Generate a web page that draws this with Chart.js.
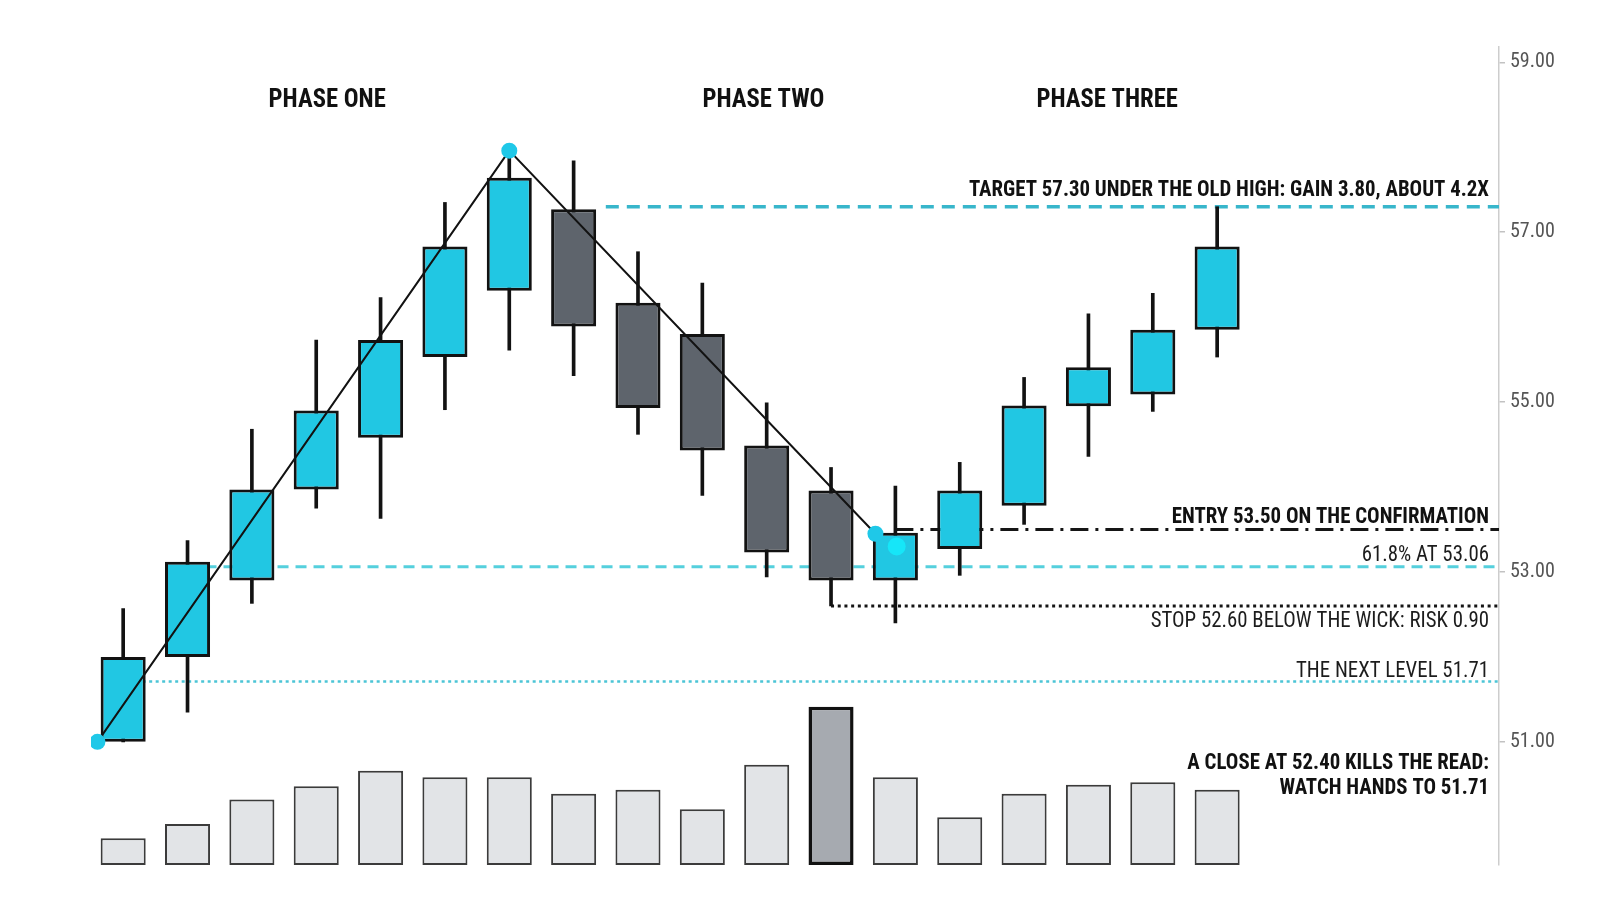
<!DOCTYPE html>
<html>
<head>
<meta charset="utf-8">
<script src="https://cdn.jsdelivr.net/npm/chart.js@4.4.1/dist/chart.umd.min.js"></script>
<style>
html,body{margin:0;padding:0;background:#ffffff;}
#wrap{width:1600px;height:914px;}
</style>
</head>
<body>
<div id="wrap"><canvas id="c" width="1600" height="914"></canvas></div>
<script>
// ---------------- DATA ----------------
const candleOpen  = [51.00, 52.00, 52.90, 53.97, 54.58, 55.53, 56.31, 57.27, 56.17, 55.80, 54.49, 53.96, 52.90, 53.27, 53.78, 54.95, 55.09, 55.85];
const candleHigh  = [52.57, 53.37, 54.68, 55.73, 56.23, 57.35, 57.96, 57.84, 56.77, 56.40, 54.99, 54.23, 54.01, 54.29, 55.29, 56.04, 56.28, 57.30];
const candleLow   = [51.00, 51.35, 52.63, 53.75, 53.63, 54.91, 55.61, 55.31, 54.62, 53.90, 52.94, 52.60, 52.40, 52.96, 53.56, 54.36, 54.89, 55.53];
const candleClose = [52.00, 53.12, 53.97, 54.90, 55.73, 56.83, 57.64, 55.89, 54.93, 54.43, 53.23, 52.90, 53.46, 53.96, 54.96, 55.41, 55.85, 56.83];
const volume      = [169, 259, 413, 497, 596, 554, 554, 450, 476, 352, 634, 1000, 554, 301, 450, 507, 522, 476];

const yTicks = [51, 53, 55, 57, 59];

// swing path (x in candle-index units)
const swingX = [-0.4, 6, 11.69];
const swingY = [51.00, 57.96, 53.45];
const glowX = [12.02];
const glowY = [53.30];

// horizontal levels
const levelTarget = 57.30, levelEntry = 53.50, levelFib = 53.06, levelStop = 52.60, levelNext = 51.71;
const levelStartX = {target: 7.5, entry: 12, fib: 1, stop: 11, next: 0};

const phaseNames = ['PHASE ONE', 'PHASE TWO', 'PHASE THREE'];
const phaseX = [3.17, 9.95, 15.29];

const levelLabels = [
  {text: 'TARGET 57.30 UNDER THE OLD HIGH: GAIN 3.80, ABOUT 4.2X', level: 57.30, dy: -16, bold: true},
  {text: 'ENTRY 53.50 ON THE CONFIRMATION', level: 53.50, dy: -12, bold: true},
  {text: '61.8% AT 53.06', level: 53.06, dy: -11, bold: false},
  {text: 'STOP 52.60 BELOW THE WICK: RISK 0.90', level: 52.60, dy: 16, bold: false},
  {text: 'THE NEXT LEVEL 51.71', level: 51.71, dy: -10, bold: false},
  {text: 'A CLOSE AT 52.40 KILLS THE READ:', level: 51.71, dy: 82, bold: true},
  {text: 'WATCH HANDS TO 51.71', level: 51.71, dy: 107, bold: true}
];

// ---------------- STYLE ----------------
const CYAN = '#21c7e3', GRAY = '#5e646c', INK = '#121212';
const X_MIN = -0.5, X_MAX = 21.38;
const volHi = volume.indexOf(Math.max(...volume));

function hasFont(name){
  const c = document.createElement('canvas').getContext('2d');
  const s = 'TARGET 57.30 ABCDEFG wmil 0123';
  let diff = false;
  ['monospace','serif'].forEach(f => {
    c.font = '20px ' + f; const a = c.measureText(s).width;
    c.font = '20px "' + name + '", ' + f; const b = c.measureText(s).width;
    if (Math.abs(a-b) > 0.5) diff = true;
  });
  return diff;
}
const hasCond = hasFont('Roboto Condensed');
const FONT = hasCond ? '"Roboto Condensed", Roboto, sans-serif' : 'Roboto, "Liberation Sans", sans-serif';
let SQ = 1;
(function(){
  const c = document.createElement('canvas').getContext('2d');
  c.font = 'bold 22px ' + FONT;
  const w = c.measureText(levelLabels[0].text).width;
  SQ = Math.max(0.7, Math.min(1.15, 520 / w));
})();

function drawText(ctx, txt, px, py, align, bold, size){
  ctx.save();
  ctx.font = (bold ? 'bold ' : '') + size + 'px ' + FONT;
  ctx.fillStyle = bold ? '#111111' : '#1c1c1c';
  ctx.textAlign = align;
  ctx.textBaseline = 'middle';
  ctx.translate(px, py);
  ctx.scale(SQ, 1);
  ctx.fillText(txt, 0, 0);
  ctx.restore();
}

const textPlugin = {
  id: 'textPlugin',
  afterDatasetsDraw(chart){
    const ctx = chart.ctx, xs = chart.scales.x, ys = chart.scales.y;
    phaseNames.forEach((t, i) => drawText(ctx, t, xs.getPixelForValue(phaseX[i]), 100, 'center', true, 26));
    const rx = chart.chartArea.right - 10;
    levelLabels.forEach(l => drawText(ctx, l.text, rx, ys.getPixelForValue(l.level) + l.dy, 'right', l.bold, 22));
  }
};

function levelLine(level, startX, color, width, dash, order){
  return {
    type: 'line', data: [{x: startX, y: level}, {x: X_MAX, y: level}],
    borderColor: color, borderWidth: width, borderDash: dash, pointRadius: 0,
    fill: false, order: order, yAxisID: 'y', borderCapStyle: 'butt'
  };
}

const idx = candleOpen.map((_, i) => i);

const datasets = [
  // swing markers (top)
  {type: 'line', data: glowX.map((x, i) => ({x, y: glowY[i]})), showLine: false,
   pointRadius: 9, pointBackgroundColor: '#16e6f8', pointBorderWidth: 0, order: 0, yAxisID: 'y'},
  {type: 'line', data: swingX.map((x, i) => ({x, y: swingY[i]})), borderColor: INK, borderWidth: 2,
   tension: 0, pointRadius: 8, pointBackgroundColor: '#1fc8e8', pointBorderWidth: 0, order: 1, yAxisID: 'y', fill: false},
  // bodies
  {type: 'bar', data: idx.map(i => ({x: i, y: [candleOpen[i], candleClose[i]]})),
   backgroundColor: ctx => candleClose[ctx.dataIndex] >= candleOpen[ctx.dataIndex] ? CYAN : GRAY,
   borderColor: INK, borderWidth: 3, borderSkipped: false, barPercentage: 0.7, categoryPercentage: 1,
   grouped: false, order: 3, yAxisID: 'y'},
  // wicks
  {type: 'bar', data: idx.map(i => ({x: i, y: [candleLow[i], candleHigh[i]]})),
   backgroundColor: INK, borderWidth: 0, barThickness: 3, grouped: false, order: 4, yAxisID: 'y'},
  // volume
  {type: 'bar', data: idx.map(i => ({x: i, y: volume[i]})),
   backgroundColor: ctx => ctx.dataIndex === volHi ? '#a6aab0' : '#e2e4e7',
   borderColor: ctx => ctx.dataIndex === volHi ? '#111111' : '#3b3b3b',
   borderWidth: ctx => ctx.dataIndex === volHi ? 3.5 : 2,
   borderSkipped: false, barPercentage: 0.7, categoryPercentage: 1, grouped: false, order: 6, yAxisID: 'yv'},
  // levels
  levelLine(levelTarget, levelStartX.target, '#38b6cb', 3.5, [13, 8], 8),
  levelLine(levelEntry, levelStartX.entry, '#151515', 3, [18, 7, 3, 7], 8),
  levelLine(levelFib, levelStartX.fib, '#55d0dd', 3, [11, 7], 8),
  levelLine(levelStop, levelStartX.stop, '#151515', 3, [3, 3.7], 8),
  levelLine(levelNext, levelStartX.next, '#4cc5d6', 2.5, [3, 3.5], 8)
];

new Chart(document.getElementById('c'), {
  type: 'bar',
  data: {datasets},
  options: {
    responsive: false,
    animation: false,
    events: [],
    layout: {padding: {left: 91, top: 47, bottom: 49, right: 0}},
    plugins: {legend: {display: false}, tooltip: {enabled: false}},
    scales: {
      x: {type: 'linear', min: X_MIN, max: X_MAX, display: false, offset: false},
      y: {
        type: 'linear', position: 'right', min: 49.55, max: 59.18,
        afterBuildTicks: s => { s.ticks = yTicks.map(v => ({value: v})); },
        afterFit: s => { s.width = 101; },
        border: {display: true, color: '#cdcdcd', width: 1.5},
        grid: {display: true, drawOnChartArea: false, drawTicks: true, tickLength: 6, color: '#c2c2c2', lineWidth: 1.5},
        ticks: {font: {family: FONT, size: hasCond ? 20 : 18}, color: '#555555', padding: 5,
                callback: v => Number(v).toFixed(2)}
      },
      yv: {type: 'linear', display: false, min: 0, max: 5167}
    }
  },
  plugins: [textPlugin]
});
</script>
</body>
</html>
